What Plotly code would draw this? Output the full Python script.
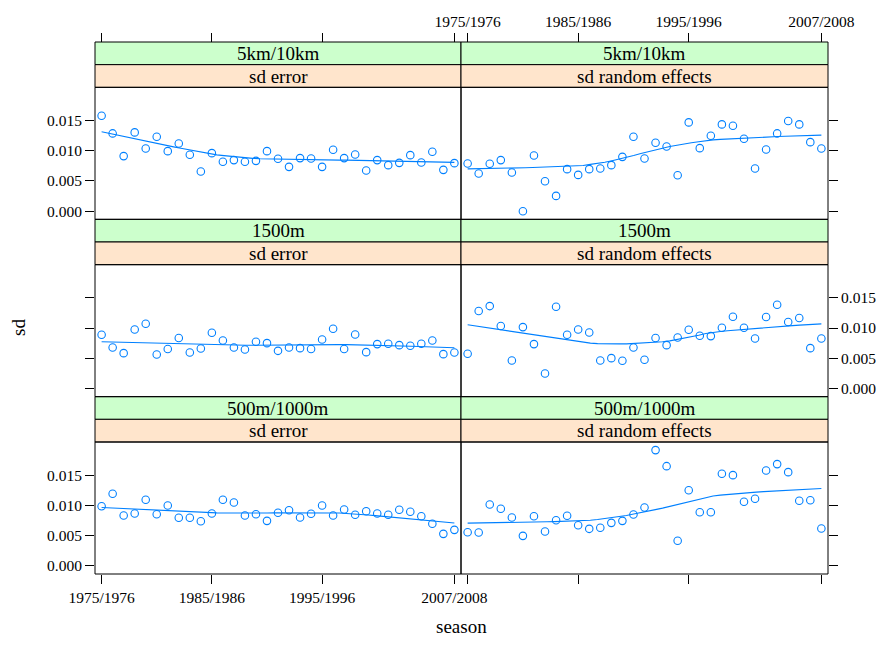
import numpy as np
import plotly.graph_objects as go

# ---------------- data ----------------
seasons = [f"{y}/{y+1}" for y in range(1975, 2008)]
tick_index = [0, 10, 20, 32]
tick_text = ["1975/1976", "1985/1986", "1995/1996", "2007/2008"]
y_ticks = [0.0, 0.005, 0.010, 0.015]
y_tick_text = ["0.000", "0.005", "0.010", "0.015"]

distances = ["5km/10km", "1500m", "500m/1000m"]
measures = ["sd error", "sd random effects"]

sd_error_5k = [0.01576, 0.01285, 0.00910, 0.01302, 0.01037, 0.01229, 0.00992, 0.01119, 0.00932,
               0.00656, 0.00959, 0.00816, 0.00844, 0.00816, 0.00832, 0.00992, 0.00866, 0.00733,
               0.00877, 0.00871, 0.00733, 0.01014, 0.00877, 0.00937, 0.00673, 0.00844, 0.00761,
               0.00799, 0.00926, 0.00805, 0.00981, 0.00683, 0.00794]
sd_rand_5k = [0.00789, 0.00624, 0.00783, 0.00844, 0.00640, 0.00000, 0.00921, 0.00496, 0.00253,
              0.00695, 0.00600, 0.00695, 0.00706, 0.00761, 0.00898, 0.01229, 0.00871, 0.01130,
              0.01070, 0.00595, 0.01467, 0.01042, 0.01246, 0.01434, 0.01411, 0.01196, 0.00706,
              0.01020, 0.01285, 0.01489, 0.01434, 0.01141, 0.01037]
sd_error_1500 = [0.00888, 0.00678, 0.00585, 0.00976, 0.01070, 0.00562, 0.00652, 0.00834, 0.00595,
                 0.00662, 0.00921, 0.00794, 0.00678, 0.00645, 0.00772, 0.00750, 0.00623, 0.00678,
                 0.00667, 0.00652, 0.00811, 0.00987, 0.00652, 0.00893, 0.00601, 0.00734, 0.00739,
                 0.00717, 0.00706, 0.00739, 0.00794, 0.00568, 0.00595]
sd_rand_1500 = [0.00574, 0.01280, 0.01362, 0.01032, 0.00463, 0.01015, 0.00734, 0.00248, 0.01351,
                0.00888, 0.00976, 0.00926, 0.00463, 0.00502, 0.00458, 0.00678, 0.00475, 0.00834,
                0.00717, 0.00844, 0.00971, 0.00872, 0.00866, 0.01004, 0.01186, 0.01004, 0.00827,
                0.01181, 0.01385, 0.01098, 0.01164, 0.00667, 0.00827]
sd_error_500 = [0.00986, 0.01191, 0.00832, 0.00865, 0.01092, 0.00854, 0.00997, 0.00794, 0.00794,
                0.00738, 0.00865, 0.01092, 0.01047, 0.00832, 0.00854, 0.00744, 0.00877, 0.00920,
                0.00799, 0.00860, 0.00997, 0.00832, 0.00931, 0.00844, 0.00903, 0.00865, 0.00844,
                0.00926, 0.00893, 0.00821, 0.00695, 0.00529, 0.00595]
sd_rand_500 = [0.00556, 0.00551, 0.01014, 0.00943, 0.00799, 0.00496, 0.00821, 0.00567, 0.00755,
               0.00827, 0.00672, 0.00612, 0.00629, 0.00711, 0.00744, 0.00849, 0.00964, 0.01912,
               0.01647, 0.00414, 0.01250, 0.00887, 0.00887, 0.01522, 0.01499, 0.01059, 0.01108,
               0.01576, 0.01681, 0.01548, 0.01075, 0.01085, 0.00617]

panel_data = [[sd_error_5k, sd_rand_5k],
              [sd_error_1500, sd_rand_1500],
              [sd_error_500, sd_rand_500]]


# ------------- loess (span 2/3, degree 1, symmetric family) -------------
def loess(x, y, xeval, span=2 / 3, iterations=4):
    x = np.asarray(x, float)
    y = np.asarray(y, float)
    n = len(x)
    q = int(np.floor(n * span))
    rob = np.ones(n)

    def fit_at(x0, rw):
        d = np.abs(x - x0)
        h = np.sort(d)[q - 1]
        h = max(h, 1e-12)
        u = np.clip(d / h, 0, 1)
        w = (1 - u ** 3) ** 3 * rw
        sw = w.sum()
        xm = (w * x).sum() / sw
        ym = (w * y).sum() / sw
        sxx = (w * (x - xm) ** 2).sum()
        b = (w * (x - xm) * (y - ym)).sum() / sxx if sxx > 0 else 0.0
        return ym + b * (x0 - xm)

    for it in range(iterations):
        fitted = np.array([fit_at(xi, rob) for xi in x])
        if it == iterations - 1:
            break
        res = y - fitted
        s = np.median(np.abs(res))
        u = res / (6 * s)
        rob = np.where(np.abs(u) < 1, (1 - u ** 2) ** 2, 0.0)
    return np.array([fit_at(x0, rob) for x0 in xeval])


# ---------------- layout geometry ----------------
W, H = 883, 645
col_px = [(95, 461), (461, 828)]
top, bottom = 42, 574
row_h = (bottom - top) / 3
strip_h = 22.67
x_range = [-0.6, 32.6]
y_range = [-0.00134, 0.02046]

BLUE = "#0080ff"
FONT = "Liberation Serif"
GREEN = "#CCFFCC"
PEACH = "#FFE5CC"


def fx(px):
    return px / W


def fy(py):
    return 1 - py / H


fig = go.Figure()
shapes = []
annotations = []
xi = np.arange(len(seasons))
xev = np.linspace(0, len(seasons) - 1, 50)

for r in range(3):
    rt = top + r * row_h
    pt = rt + 2 * strip_h
    pb = rt + row_h
    for c in range(2):
        k = r * 2 + c + 1
        xs = "" if k == 1 else str(k)
        vals = panel_data[r][c]
        fig.add_trace(go.Scatter(
            x=xi, y=vals, mode="markers", xaxis="x" + xs, yaxis="y" + xs,
            marker=dict(symbol="circle-open", size=7.5, color=BLUE,
                        line=dict(width=1.1, color=BLUE)),
            showlegend=False, hoverinfo="skip"))
        fig.add_trace(go.Scatter(
            x=xev, y=loess(xi, vals, xev), mode="lines", xaxis="x" + xs, yaxis="y" + xs,
            line=dict(color=BLUE, width=1.1), showlegend=False, hoverinfo="skip"))

        x0, x1 = col_px[c]
        bottom_row = r == 2
        fig.layout["xaxis" + xs] = dict(
            domain=[fx(x0), fx(x1)], range=x_range, anchor="y" + xs, automargin=False,
            showgrid=False, zeroline=False, showline=False,
            tickmode="array", tickvals=tick_index, ticktext=tick_text,
            ticks="outside" if bottom_row else "", ticklen=9, tickcolor="black",
            showticklabels=bottom_row and c == 0,
            tickfont=dict(family=FONT, size=15.5, color="black"))
        show_y_labels = (c == 0 and r != 1) or (c == 1 and r == 1)
        fig.layout["yaxis" + xs] = dict(
            domain=[fy(pb), fy(pt)], range=y_range, anchor="x" + xs, automargin=False,
            side="left" if c == 0 else "right",
            showgrid=False, zeroline=False, showline=False,
            tickmode="array", tickvals=y_ticks, ticktext=y_tick_text,
            ticks="outside", ticklen=9, tickcolor="black",
            showticklabels=show_y_labels,
            tickfont=dict(family=FONT, size=15.5, color="black"))

        # strips
        shapes.append(dict(type="rect", xref="paper", yref="paper",
                           x0=fx(x0), x1=fx(x1), y0=fy(rt + strip_h), y1=fy(rt),
                           fillcolor=GREEN, line=dict(color="black", width=1), layer="below"))
        shapes.append(dict(type="rect", xref="paper", yref="paper",
                           x0=fx(x0), x1=fx(x1), y0=fy(pt), y1=fy(rt + strip_h),
                           fillcolor=PEACH, line=dict(color="black", width=1), layer="below"))
        shapes.append(dict(type="rect", xref="paper", yref="paper",
                           x0=fx(x0), x1=fx(x1), y0=fy(pb), y1=fy(pt),
                           fillcolor="rgba(0,0,0,0)", line=dict(color="black", width=1),
                           layer="above"))
        annotations.append(dict(text=distances[r], xref="paper", yref="paper",
                                x=fx((x0 + x1) / 2), y=fy(rt + strip_h / 2),
                                showarrow=False, xanchor="center", yanchor="middle",
                                font=dict(family=FONT, size=19, color="black")))
        annotations.append(dict(text=measures[c], xref="paper", yref="paper",
                                x=fx((x0 + x1) / 2), y=fy(rt + 1.5 * strip_h),
                                showarrow=False, xanchor="center", yanchor="middle",
                                font=dict(family=FONT, size=19, color="black")))

# top axes (ticks above the top strips)
for c, base in enumerate(["x", "x2"]):
    name = "xaxis" + str(7 + c)
    x0, x1 = col_px[c]
    fig.layout[name] = dict(
        domain=[fx(x0), fx(x1)], range=x_range, overlaying=base, anchor="free",
        position=fy(top), side="top", showgrid=False, zeroline=False, showline=False,
        automargin=False,
        tickmode="array", tickvals=tick_index, ticktext=tick_text,
        ticks="outside", ticklen=9, tickcolor="black", showticklabels=(c == 1),
        tickfont=dict(family=FONT, size=15.5, color="black"))
    fig.add_trace(go.Scatter(x=[0], y=[-1], xaxis="x" + str(7 + c),
                             yaxis="y" if c == 0 else "y2", mode="markers",
                             marker=dict(opacity=0), showlegend=False, hoverinfo="skip"))

annotations.append(dict(text="season", xref="paper", yref="paper",
                        x=fx((95 + 828) / 2), y=fy(626), showarrow=False,
                        xanchor="center", yanchor="middle",
                        font=dict(family=FONT, size=19, color="black")))
annotations.append(dict(text="sd", xref="paper", yref="paper",
                        x=fx(18), y=fy(328), showarrow=False, textangle=-90,
                        xanchor="center", yanchor="middle",
                        font=dict(family=FONT, size=19, color="black")))

fig.update_layout(template="none", width=W, height=H, margin=dict(l=0, r=0, t=0, b=0),
                  paper_bgcolor="white", plot_bgcolor="white",
                  shapes=shapes, annotations=annotations)

fig.write_html("out.html")
